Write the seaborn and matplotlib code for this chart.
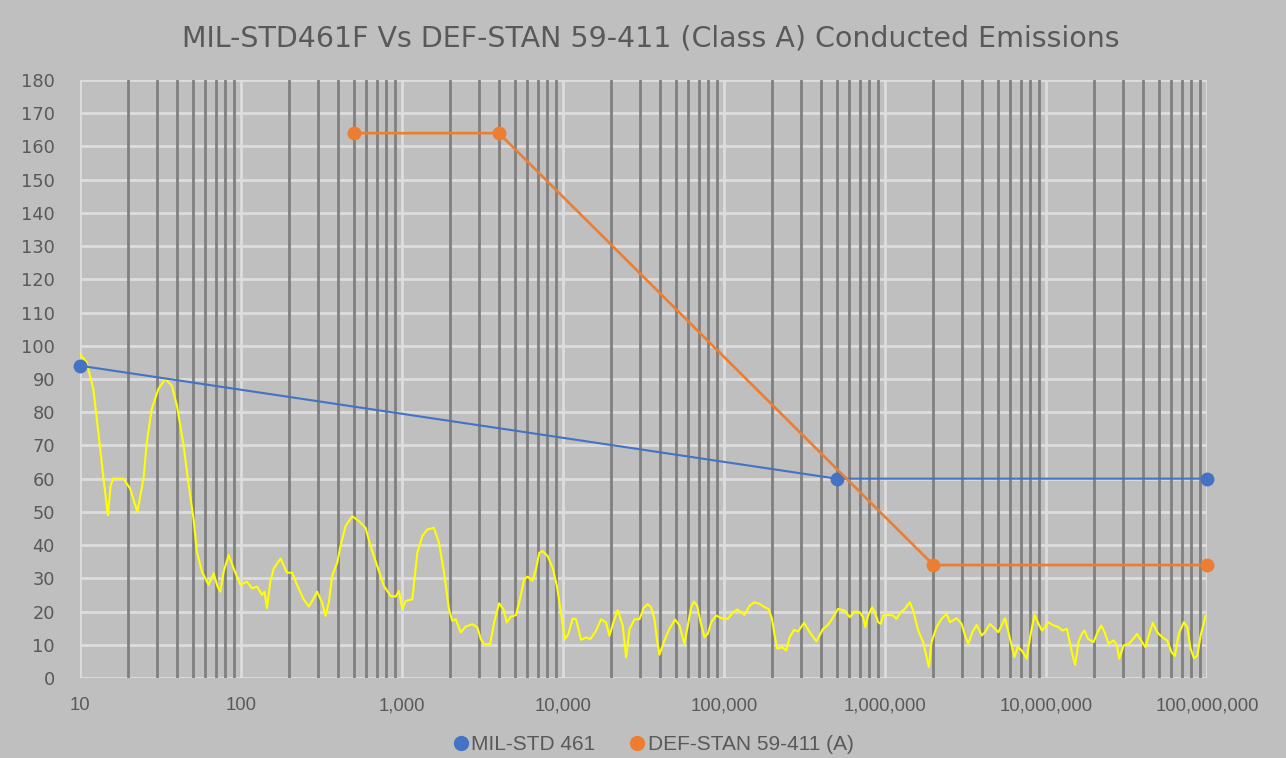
import matplotlib
matplotlib.use("Agg")
import matplotlib.pyplot as plt
import seaborn as sns
from matplotlib.ticker import LogLocator, FuncFormatter, NullFormatter
from matplotlib.lines import Line2D

title = "MIL-STD461F Vs DEF-STAN 59-411 (Class A) Conducted Emissions"
mil_label = "MIL-STD 461"
def_label = "DEF-STAN 59-411 (A)"

mil_freq = [10, 500000, 100000000]
mil_level = [94, 60, 60]
def_freq = [500, 4000, 2000000, 100000000]
def_level = [164, 164, 34, 34]

emis_freq = [
    10, 11.0, 12.1, 13.0, 14.0, 14.9, 15.5, 16.1, 18.6, 20.5, 22.7, 24.8, 26.0, 27.9,
    30.7, 33.8, 37.2, 40.0, 44.0, 47.2, 50.7, 53.2, 57.2, 62.9, 67.6, 71.6, 74.3, 78.0,
    83.8, 90.0, 99.1, 109, 117, 126, 135, 140, 145, 152, 160, 176,
    193, 208, 223, 245, 264, 283, 297, 319, 335, 351, 368, 396, 415, 446, 491, 540,
    594, 638, 702, 772, 850, 913, 957, 1004, 1054, 1159, 1245, 1337, 1436, 1580, 1698,
    1824, 1959, 2054, 2157,
    2316, 2488, 2737, 2940, 3085, 3237, 3527, 3734, 4011, 4268, 4478, 4742, 5094, 5345,
    5742, 6024, 6471, 6789, 7123, 7473, 8028, 8624, 9166, 9709, 10281, 10787, 11477,
    12042, 12936, 13896, 14789, 16036, 17226, 18505, 19415, 20856, 21882, 23506, 24662,
    25875, 27796, 29859, 31776, 33647,
    35237, 36983, 38400, 39719, 42657, 45812, 49682, 52860, 56771, 59571, 62508, 64937,
    68141, 71501, 75644, 79370, 83283, 89478, 96131, 105800, 113600, 120900, 127900,
    134200, 144200, 154900, 166400, 178800, 189300, 198600, 206400, 214400, 229300,
    243800, 255800, 272300, 288400, 314300, 340800, 374800, 412500, 443200, 476300, 511700,
    562300, 604000, 648900, 696900, 731000, 755500, 784900, 831700, 863900, 906300,
    941600, 973000, 1045000, 1123000, 1178000, 1254000, 1328000, 1426000, 1496000,
    1607000, 1726000, 1811000, 1873000, 1945000, 2090000, 2245000, 2413000, 2531000,
    2786000, 2993000, 3140000, 3293000, 3487000, 3709000, 3984000, 4179000, 4489000,
    4822000, 5058000, 5566000, 5979000, 6364000, 6676000, 7069000, 7594000, 7966000,
    8474000, 8891000, 9420000, 9885000, 10360000, 11130000, 11960000, 12660000, 13460000,
    14130000, 14610000, 15180000, 15920000, 16700000, 17350000, 18200000, 19740000,
    20710000, 22030000, 23110000, 24470000, 26290000, 27590000, 28520000, 30350000,
    32610000, 34220000, 36760000, 39490000, 41430000, 43470000, 46040000, 49000000,
    52650000, 56560000, 60160000, 63120000, 66860000, 71830000, 75350000, 79050000,
    82940000, 87010000, 91290000, 98070000,
]
emis_level = [
    97.5, 95, 87, 74, 60, 49, 58, 60, 60, 57, 50, 60, 71, 81,
    87, 90, 88, 82, 70, 58.5, 48, 38, 32, 28, 31.5, 27.5, 26, 32,
    37, 33, 28, 29, 27, 27.5, 25, 26, 21, 29, 33, 36,
    31.7, 31.7, 28, 23.7, 21.5, 24, 26, 22.7, 18.7, 22.7, 30.7, 34.7, 39.7, 45.7, 48.7, 47.2,
    45.2, 39.7, 33.7, 27.7, 24.7, 24.5, 26.2, 20.7, 23.2, 23.7, 37.7, 42.7, 44.7, 45.2, 40.7,
    31.7, 20.7, 17.2, 17.7,
    13.7, 15.5, 16.2, 15.2, 11.7, 10.2, 10.2, 16.7, 22.5, 20.7, 16.7, 18.5, 18.9, 22.7,
    29.7, 30.5, 29.2, 32.7, 37.7, 38.2, 36.7, 33.2, 27.7, 19.7, 11.7, 13.2, 17.9,
    17.7, 11.5, 12.2, 11.7, 14.2, 17.7, 16.7, 12.7, 17.7, 20.4, 15.7, 6.2,
    14.7, 17.7, 17.7, 21.2, 22.2,
    21.3, 17.8, 11.3, 7.0, 11.3, 14.8, 17.6, 15.8, 10.3, 15.8, 21.3, 23,
    21.8, 16.8, 12.3, 13.3, 16.8, 18.8, 18, 17.8, 19.8, 20.6, 19.8,
    19.0, 21.8, 22.8, 22.3, 21.3, 20.8, 17.8, 12.8, 8.8, 9.3,
    8.3, 12.3, 14.5, 14, 16.6, 13.8, 11, 14.8, 16, 18.3, 20.8,
    20.3, 18.3, 20, 19.8, 18.3, 15.3, 18.8, 21.3, 19.8, 16.8,
    16.3, 18.8, 19, 18.8, 17.8, 19.8, 20.8, 22.8, 20.3,
    14.3, 10.8, 6.3, 3.3, 10.8, 15.3, 17.8, 19.3, 16.8,
    18, 16.3, 12.8, 10.3, 13.8, 16, 12.8, 13.8, 16.3,
    14.8, 13.8, 18, 11.8, 6.3, 9.3, 8.3, 5.8, 12.3,
    19, 16.8, 14.3, 15.3, 16.8, 15.8, 15.3, 14.3, 14.8,
    10.3, 6.8, 4, 10.8, 13.3, 14.3, 11.8, 10.8,
    13.3, 15.8, 13.8, 10.3, 11.3, 9.8, 5.8, 9.8,
    10.3, 11.3, 13.3, 10.8, 9.3, 12.8, 16.6, 13.8,
    12.3, 11.3, 7.8, 6.6, 13.3, 16.8, 15.3, 8.8,
    6, 6.6, 12.8, 18.8,
]

x_ticks = [10, 100, 1000, 10000, 100000, 1000000, 10000000, 100000000]
y_ticks = list(range(0, 181, 10))

BG = "#BFBFBF"
TXT = "#595959"
BLUE = "#4472C4"
ORANGE = "#ED7D31"
YELLOW = "#FFFF00"

sns.set_style("white")

fig = plt.figure(figsize=(12.86, 7.58), dpi=100, facecolor=BG)
ax = fig.add_axes([80 / 1286, 1 - 678 / 758, 1127 / 1286, 598 / 758])
ax.set_facecolor(BG)
ax.set_xscale("log")

sns.lineplot(x=emis_freq, y=emis_level, ax=ax, color=YELLOW, linewidth=1.5,
             sort=False, zorder=3)
sns.lineplot(x=mil_freq, y=mil_level, ax=ax, color=BLUE, linewidth=1.5, sort=False,
             marker="o", markersize=10, markeredgewidth=0, zorder=4, clip_on=False)
sns.lineplot(x=def_freq, y=def_level, ax=ax, color=ORANGE, linewidth=1.9, sort=False,
             marker="o", markersize=10, markeredgewidth=0, zorder=4, clip_on=False)

ax.set_xlim(10, 100000000)
ax.set_ylim(0, 180)
ax.set_xticks(x_ticks)
ax.set_yticks(y_ticks)
ax.xaxis.set_minor_locator(LogLocator(base=10, subs=range(2, 10), numticks=20))
ax.xaxis.set_minor_formatter(NullFormatter())
ax.xaxis.set_major_formatter(FuncFormatter(lambda v, p: f"{v:,.0f}"))

ax.set_axisbelow(True)
ax.grid(which="major", axis="both", color="#DDDDDD", linewidth=2)
ax.grid(which="minor", axis="x", color="#808080", linewidth=2)
ax.xaxis.set_zorder(1.6)
for s in ax.spines.values():
    s.set_visible(False)

ax.tick_params(axis="both", which="both", length=0)
ax.tick_params(axis="x", pad=14, labelcolor=TXT)
ax.tick_params(axis="y", pad=18, labelcolor=TXT)
for lab in ax.get_xticklabels():
    lab.set_fontfamily("Liberation Sans")
    lab.set_fontsize(13.3)
for lab in ax.get_yticklabels():
    lab.set_fontfamily("DejaVu Sans")
    lab.set_fontsize(12.8)

ax.set_xlabel("")
ax.set_ylabel("")
if ax.get_legend() is not None:
    ax.get_legend().remove()

fig.text(0.506, 1 - 38 / 758, title, ha="center", va="center", fontsize=20.5,
         color=TXT, family="DejaVu Sans")

handles = [
    Line2D([], [], marker="o", linestyle="", color=BLUE, markersize=11, markeredgewidth=0),
    Line2D([], [], marker="o", linestyle="", color=ORANGE, markersize=11, markeredgewidth=0),
]
fig.legend(handles, [mil_label, def_label], loc="center", bbox_to_anchor=(0.507, 1 - 745 / 758),
           ncol=2, frameon=False, handletextpad=0.0, columnspacing=1.5,
           prop={"family": "Liberation Sans", "size": 15}, labelcolor=TXT,
           handlelength=1.0)

fig.savefig("out.png", dpi=100, facecolor=BG)
